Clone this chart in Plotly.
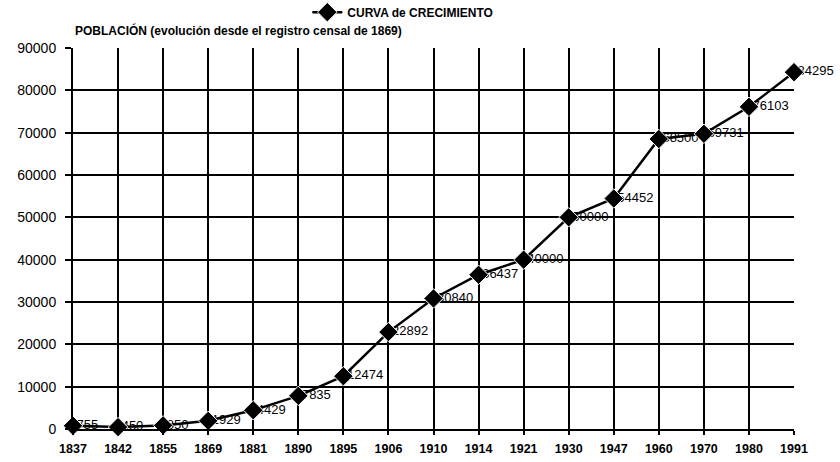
import plotly.graph_objects as go

years = ["1837", "1842", "1855", "1869", "1881", "1890", "1895", "1906", "1910",
         "1914", "1921", "1930", "1947", "1960", "1970", "1980", "1991"]
population = [755, 450, 850, 1929, 4429, 7835, 12474, 22892, 30840,
              36437, 40000, 50000, 54452, 68500, 69731, 76103, 84295]
y_ticks = [0, 10000, 20000, 30000, 40000, 50000, 60000, 70000, 80000, 90000]

font_family = "Liberation Sans, Arial, sans-serif"

fig = go.Figure()
# value labels first, so the markers sit on top of their first digit
fig.add_trace(go.Scatter(
    x=years, y=population,
    mode="text",
    text=["\u00a0" + str(v) for v in population],
    textposition="middle right",
    textfont=dict(family=font_family, size=13, color="black"),
    showlegend=False, hoverinfo="skip",
    cliponaxis=False,
))
fig.add_trace(go.Scatter(
    x=years, y=population,
    mode="lines+markers",
    name="CURVA de CRECIMIENTO",
    line=dict(color="black", width=2.5),
    marker=dict(symbol="diamond", size=15, color="black",
                line=dict(color="white", width=1)),
    cliponaxis=False,
))

fig.update_layout(
    width=840, height=462,
    paper_bgcolor="white", plot_bgcolor="white",
    margin=dict(l=73, r=46, t=48, b=33, autoexpand=False),
    font=dict(family=font_family, color="black"),
    showlegend=True,
    legend=dict(orientation="h", x=0.325, xanchor="left",
                y=1.094, yanchor="middle",
                font=dict(size=12, weight="bold"),
                bgcolor="rgba(0,0,0,0)"),
    annotations=[dict(
        text="POBLACIÓN (evolución desde el registro censal de 1869)",
        xref="paper", yref="paper", x=0.0, y=1.02, xanchor="left", yanchor="bottom",
        showarrow=False, font=dict(size=12, weight="bold", color="black"),
    )],
)

fig.update_xaxes(
    type="category", range=[0, len(years) - 1], automargin=False,
    showgrid=True, gridcolor="black", gridwidth=2,
    showline=True, linecolor="black", linewidth=2, mirror=False,
    ticks="outside", ticklen=4, tickcolor="black", tickwidth=2,
    ticklabelstandoff=3,
    tickfont=dict(size=12.5, weight="bold"),
)
fig.update_yaxes(
    range=[0, 90000], tickvals=y_ticks, ticktext=[str(v) for v in y_ticks],
    automargin=False,
    showgrid=True, gridcolor="black", gridwidth=2,
    showline=True, linecolor="black", linewidth=2,
    ticks="outside", ticklen=6, tickcolor="black", tickwidth=2,
    ticklabelstandoff=6,
    tickfont=dict(size=14), zeroline=False,
)

# page body has a default margin; drop it so the figure fills the window
fig.write_html("out.html", config={"displayModeBar": False},
               post_script="document.body.style.margin='0';")
